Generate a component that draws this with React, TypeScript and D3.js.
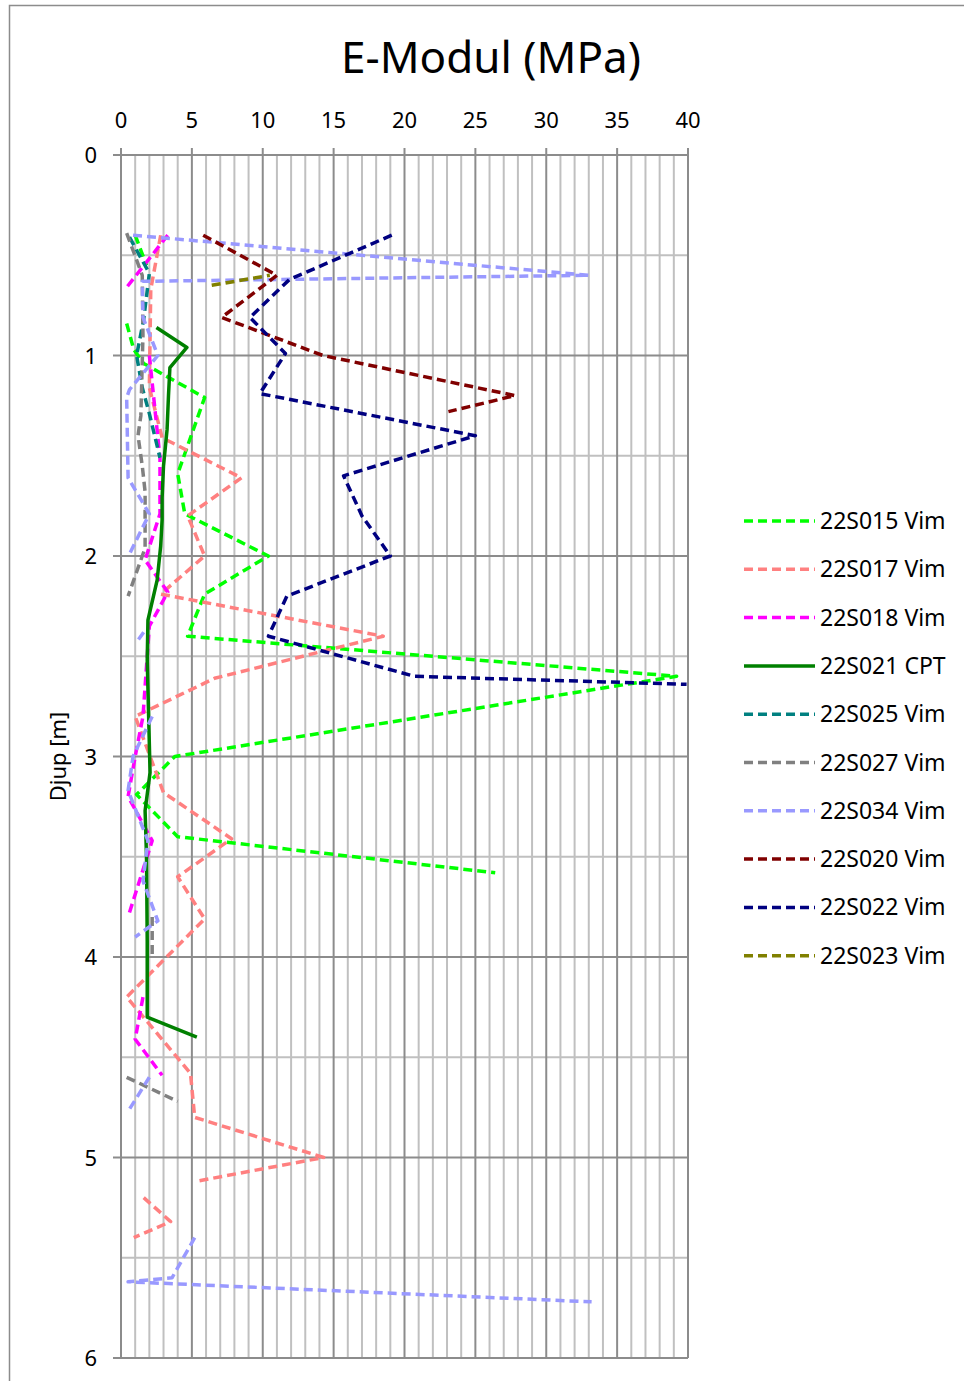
import * as d3 from "d3";

// depth [m], E-modul [MPa]; null = gap in the series
type Pt = [number, number] | null;

const s015: Pt[] = [
  [0.4, 1.0], [0.55, 1.8], null,
  [0.84, 0.4], [0.97, 0.9], [1.04, 1.6], [1.21, 5.9], [1.59, 4.0], [1.79, 4.5],
  [2.0, 10.4], [2.19, 5.9], [2.4, 4.7], [2.6, 39.2], [3.0, 3.8], [3.19, 1.1],
  [3.4, 4.0], [3.58, 26.4],
];
const s017: Pt[] = [
  [0.4, 2.8], [0.67, 2.1], [1.16, 2.0], [1.41, 2.9], [1.61, 8.5], [1.8, 4.7],
  [2.0, 5.9], [2.19, 2.8], [2.4, 18.5], [2.61, 6.6], [2.8, 1.0], [3.18, 3.0],
  [3.41, 7.8], [3.6, 4.0], [3.81, 5.9], [4.2, 0.4], [4.58, 4.9], [4.8, 5.2],
  [5.0, 14.3], [5.12, 5.2], null,
  [5.2, 1.6], [5.32, 3.5], [5.4, 0.9],
];
const s018: Pt[] = [
  [0.4, 3.3], [0.66, 0.4], null,
  [1.0, 2.0], [1.51, 2.75], [1.79, 2.75], [2.02, 1.7], [2.18, 3.3], [2.35, 2.0],
  [2.8, 1.55], [3.0, 1.0], [3.2, 0.5], [3.42, 2.2], [3.8, 0.5], null,
  [4.2, 1.55], [4.41, 1.0], [4.59, 2.9],
];
const s021: Pt[] = [
  [0.86, 2.5], [0.96, 4.65], [1.06, 3.45], [1.2, 3.35], [1.37, 3.25], [1.55, 3.0],
  [1.71, 2.9], [1.82, 2.9], [1.95, 2.8], [2.12, 2.55], [2.32, 1.9], [2.52, 1.85],
  [2.8, 1.95], [3.08, 2.05], [3.27, 1.7], [3.5, 1.8], [3.92, 1.85], [4.3, 1.85],
  [4.4, 5.35],
];
const s025: Pt[] = [
  [0.41, 0.6], [0.59, 2.0], [0.82, 1.6], [1.0, 1.1], [1.16, 1.5], [1.29, 2.0],
  [1.51, 2.75],
];
const s027: Pt[] = [
  [0.39, 0.4], [0.6, 1.5], [0.9, 1.55], [1.3, 1.4], [1.4, 1.2], [1.55, 1.5],
  [1.68, 1.7], [1.96, 1.7], [2.1, 1.0], [2.2, 0.5], null,
  [3.8, 2.2], [4.0, 2.2], null,
  [4.6, 0.4], [4.72, 4.0],
];
const s034: Pt[] = [
  [0.4, 0.85], [0.6, 33.0], [0.63, 1.5], [0.81, 1.55], [1.0, 2.6], [1.17, 0.6],
  [1.21, 0.4], [1.61, 0.5], [1.79, 2.0], [1.99, 0.6], null,
  [2.38, 1.6], [2.42, 1.2], null,
  [2.8, 2.2], [3.0, 0.85], [3.17, 0.5], [3.42, 1.9], [3.62, 1.55], [3.82, 2.6],
  [3.9, 1.0], null,
  [4.6, 2.0], [4.77, 0.5], null,
  [5.4, 5.2], [5.6, 3.6], [5.62, 0.5], [5.72, 33.2],
];
const s020: Pt[] = [
  [0.4, 5.8], [0.6, 11.0], [0.81, 7.1], [1.0, 14.25], [1.2, 27.8], [1.28, 23.1],
];
const s022: Pt[] = [
  [0.4, 19.1], [0.62, 11.9], [0.81, 9.1], [0.99, 11.6], [1.19, 9.8], [1.4, 25.0],
  [1.6, 15.7], [1.8, 17.0], [2.0, 19.0], [2.2, 11.7], [2.4, 10.4], [2.6, 20.7],
  [2.64, 39.9],
];
const s023: Pt[] = [[0.65, 6.4], [0.6, 10.5]];

const seriesNames = [
  "22S015 Vim", "22S017 Vim", "22S018 Vim", "22S021 CPT", "22S025 Vim",
  "22S027 Vim", "22S034 Vim", "22S020 Vim", "22S022 Vim", "22S023 Vim",
];
const seriesData = [s015, s017, s018, s021, s025, s027, s034, s020, s022, s023];
const seriesColors = [
  "#00ff00", "#ff8080", "#ff00ff", "#008000", "#008080",
  "#808080", "#9999ff", "#800000", "#000080", "#808000",
];

const xTicks = [0, 5, 10, 15, 20, 25, 30, 35, 40];
const yTicks = [0, 1, 2, 3, 4, 5, 6];

const font = "'Noto Sans', 'Open Sans', sans-serif";

export default function App() {
  const x = d3.scaleLinear().domain([0, 40]).range([121, 688]);
  const y = d3.scaleLinear().domain([0, 6]).range([155, 1358]);

  const line = d3
    .line<Pt>()
    .defined((p) => p !== null)
    .x((p) => x((p as [number, number])[1]))
    .y((p) => y((p as [number, number])[0]));

  const minorX = d3.range(0, 41, 1).filter((v) => v % 5 !== 0);
  const minorY = d3.range(0.5, 6, 1);

  const dash = "9,5";

  return (
    <svg
      width={964}
      height={1381}
      style={{ position: "absolute", left: 0, top: 0, background: "#fff" }}
      fontFamily={font}
    >
      <rect x={0} y={0} width={964} height={1381} fill="#fff" />
      <rect x={9.5} y={5.5} width={1000} height={1400} fill="none" stroke="#8c8c8c" strokeWidth={1.5} />

      <text x={491} y={73} textAnchor="middle" fontSize={44} fill="#000">
        E-Modul (MPa)
      </text>

      {/* grid */}
      {minorX.map((v) => (
        <line key={"mx" + v} x1={x(v)} x2={x(v)} y1={y(0)} y2={y(6)} stroke="#c0c0c0" strokeWidth={2} />
      ))}
      {minorY.map((v) => (
        <line key={"my" + v} x1={x(0)} x2={x(40)} y1={y(v)} y2={y(v)} stroke="#c0c0c0" strokeWidth={2} />
      ))}
      {xTicks.map((v) => (
        <line key={"gx" + v} x1={x(v)} x2={x(v)} y1={y(0) - 7} y2={y(6)} stroke="#8c8c8c" strokeWidth={2} />
      ))}
      {yTicks.map((v) => (
        <line key={"gy" + v} x1={x(0) - 8} x2={x(40)} y1={y(v)} y2={y(v)} stroke="#8c8c8c" strokeWidth={2} />
      ))}

      {/* axis labels */}
      {xTicks.map((v) => (
        <text key={"tx" + v} x={x(v)} y={128} textAnchor="middle" fontSize={22} fill="#000">
          {v}
        </text>
      ))}
      {yTicks.map((v) => (
        <text key={"ty" + v} x={97} y={y(v) + 8} textAnchor="end" fontSize={22} fill="#000">
          {v}
        </text>
      ))}
      <text
        transform={`translate(66,${y(3)}) rotate(-90)`}
        textAnchor="middle"
        fontSize={22}
        fill="#000"
      >
        Djup [m]
      </text>

      {/* series */}
      {seriesData.map((data, i) => (
        <path
          key={seriesNames[i]}
          d={line(data) ?? ""}
          fill="none"
          stroke={seriesColors[i]}
          strokeWidth={i === 3 ? 3.5 : 3.5}
          strokeDasharray={i === 3 ? undefined : dash}
          strokeLinejoin="round"
        />
      ))}

      {/* legend */}
      {seriesNames.map((name, i) => {
        const ly = 521 + i * 48.3;
        return (
          <g key={"lg" + name}>
            <line
              x1={744}
              x2={815}
              y1={ly}
              y2={ly}
              stroke={seriesColors[i]}
              strokeWidth={3.5}
              strokeDasharray={i === 3 ? undefined : dash}
            />
            <text x={820} y={ly + 8} fontSize={23} fill="#000">
              {name}
            </text>
          </g>
        );
      })}
    </svg>
  );
}
